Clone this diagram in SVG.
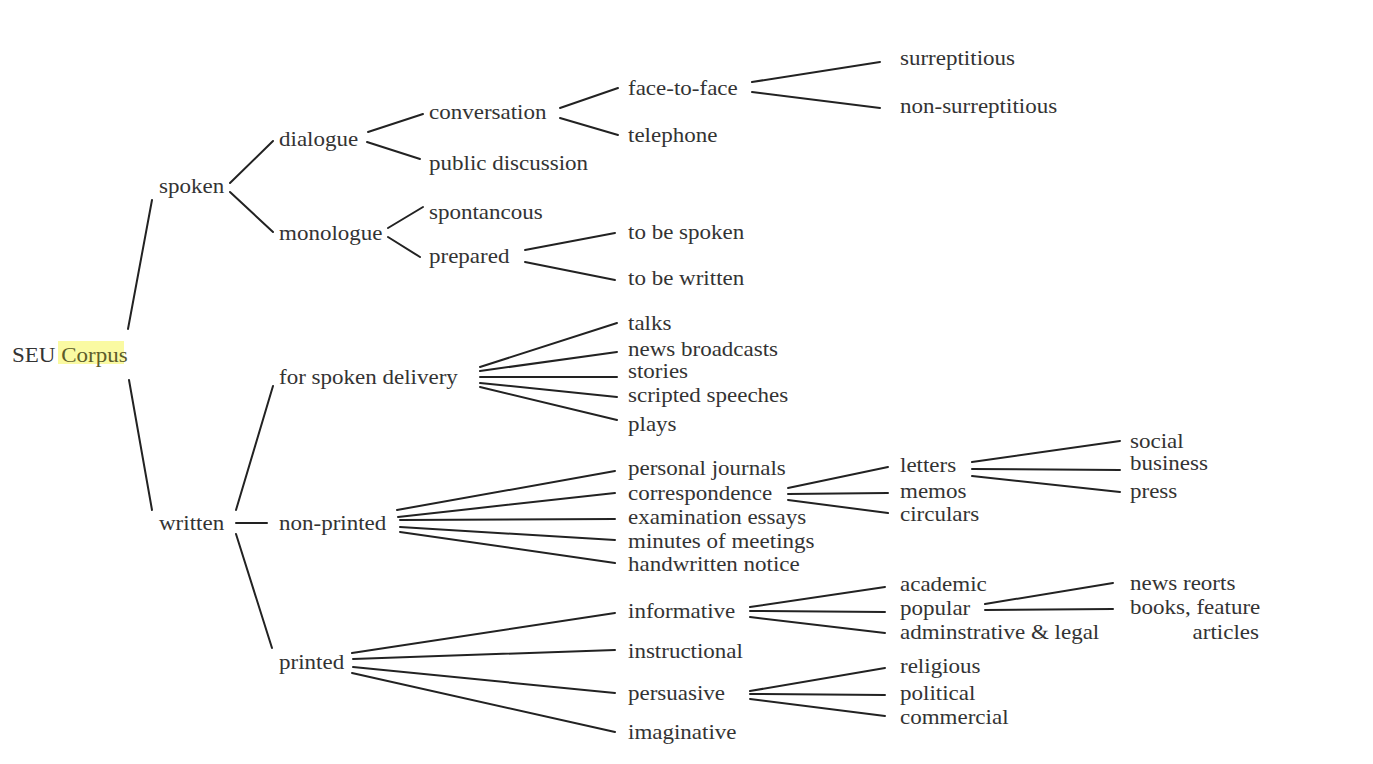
<svg xmlns="http://www.w3.org/2000/svg" width="1373" height="764" viewBox="0 0 1373 764">
<style>
text{font-family:"Liberation Serif","Times New Roman",serif;font-size:20px;fill:#333}
.end{text-anchor:end}
.hl{fill:#5c5c2a}
#connectors line{stroke:#222;stroke-width:2;stroke-linecap:round}
</style>
<rect width="1373" height="764" fill="#fff"/>
<g id="connectors">
<line x1="128" y1="329" x2="152" y2="200"/>
<line x1="129" y1="380" x2="152" y2="510"/>
<line x1="230" y1="183" x2="273" y2="141"/>
<line x1="230" y1="192" x2="273" y2="232"/>
<line x1="368" y1="132" x2="423" y2="114"/>
<line x1="367" y1="142" x2="420" y2="159"/>
<line x1="388" y1="228" x2="423" y2="207"/>
<line x1="388" y1="237" x2="420" y2="257"/>
<line x1="560" y1="108" x2="618" y2="88"/>
<line x1="560" y1="118" x2="618" y2="135"/>
<line x1="525" y1="250" x2="615" y2="233"/>
<line x1="525" y1="262" x2="615" y2="280"/>
<line x1="752" y1="82" x2="880" y2="62"/>
<line x1="752" y1="92" x2="880" y2="108"/>
<line x1="236" y1="510" x2="273" y2="386"/>
<line x1="236" y1="523" x2="267" y2="523"/>
<line x1="236" y1="534" x2="272" y2="648"/>
<line x1="480" y1="367" x2="617" y2="323"/>
<line x1="480" y1="371" x2="617" y2="352"/>
<line x1="480" y1="377" x2="617" y2="377"/>
<line x1="480" y1="383" x2="617" y2="397"/>
<line x1="480" y1="387" x2="617" y2="420"/>
<line x1="397" y1="510" x2="615" y2="471"/>
<line x1="398" y1="517" x2="615" y2="493"/>
<line x1="400" y1="520" x2="615" y2="519"/>
<line x1="400" y1="527" x2="615" y2="540"/>
<line x1="400" y1="532" x2="615" y2="563"/>
<line x1="788" y1="488" x2="888" y2="467"/>
<line x1="788" y1="494" x2="888" y2="493"/>
<line x1="788" y1="500" x2="888" y2="513"/>
<line x1="972" y1="462" x2="1120" y2="441"/>
<line x1="972" y1="469" x2="1120" y2="470"/>
<line x1="972" y1="476" x2="1120" y2="492"/>
<line x1="352" y1="653" x2="615" y2="613"/>
<line x1="353" y1="659" x2="615" y2="650"/>
<line x1="353" y1="667" x2="615" y2="693"/>
<line x1="352" y1="673" x2="615" y2="732"/>
<line x1="750" y1="607" x2="885" y2="587"/>
<line x1="750" y1="611" x2="885" y2="612"/>
<line x1="750" y1="617" x2="885" y2="633"/>
<line x1="985" y1="604" x2="1113" y2="583"/>
<line x1="985" y1="610" x2="1113" y2="609"/>
<line x1="750" y1="691" x2="885" y2="668"/>
<line x1="750" y1="694" x2="885" y2="695"/>
<line x1="750" y1="699" x2="885" y2="716"/>
</g>
<g id="n-root"><rect x="58" y="341" width="66" height="23" fill="#fafaa2"/><text transform="translate(12,362) scale(1.15,1)">SEU <tspan class="hl">Corpus</tspan></text></g>
<g id="n-spoken"><text transform="translate(159,193) scale(1.15,1)">spoken</text></g>
<g id="n-dialogue"><text transform="translate(279,146) scale(1.15,1)">dialogue</text></g>
<g id="n-monologue"><text transform="translate(279,240) scale(1.15,1)">monologue</text></g>
<g id="n-conversation"><text transform="translate(429,119) scale(1.15,1)">conversation</text></g>
<g id="n-public"><text transform="translate(429,170) scale(1.15,1)">public discussion</text></g>
<g id="n-spont"><text transform="translate(429,219) scale(1.15,1)">spontancous</text></g>
<g id="n-prepared"><text transform="translate(429,263) scale(1.15,1)">prepared</text></g>
<g id="n-f2f"><text transform="translate(628,95) scale(1.15,1)">face-to-face</text></g>
<g id="n-tel"><text transform="translate(628,142) scale(1.15,1)">telephone</text></g>
<g id="n-surr"><text transform="translate(900,65) scale(1.15,1)">surreptitious</text></g>
<g id="n-nonsurr"><text transform="translate(900,113) scale(1.15,1)">non-surreptitious</text></g>
<g id="n-tbs"><text transform="translate(628,239) scale(1.15,1)">to be spoken</text></g>
<g id="n-tbw"><text transform="translate(628,285) scale(1.15,1)">to be written</text></g>
<g id="n-fsd"><text transform="translate(279,384) scale(1.15,1)">for spoken delivery</text></g>
<g id="n-talks"><text transform="translate(628,330) scale(1.15,1)">talks</text></g>
<g id="n-news"><text transform="translate(628,356) scale(1.15,1)">news broadcasts</text></g>
<g id="n-stories"><text transform="translate(628,378) scale(1.15,1)">stories</text></g>
<g id="n-scripted"><text transform="translate(628,402) scale(1.15,1)">scripted speeches</text></g>
<g id="n-plays"><text transform="translate(628,431) scale(1.15,1)">plays</text></g>
<g id="n-written"><text transform="translate(159,530) scale(1.15,1)">written</text></g>
<g id="n-nonprinted"><text transform="translate(279,530) scale(1.15,1)">non-printed</text></g>
<g id="n-pj"><text transform="translate(628,475) scale(1.15,1)">personal journals</text></g>
<g id="n-corr"><text transform="translate(628,500) scale(1.15,1)">correspondence</text></g>
<g id="n-exam"><text transform="translate(628,524) scale(1.15,1)">examination essays</text></g>
<g id="n-minutes"><text transform="translate(628,548) scale(1.15,1)">minutes of meetings</text></g>
<g id="n-hand"><text transform="translate(628,571) scale(1.15,1)">handwritten notice</text></g>
<g id="n-letters"><text transform="translate(900,472) scale(1.15,1)">letters</text></g>
<g id="n-memos"><text transform="translate(900,498) scale(1.15,1)">memos</text></g>
<g id="n-circ"><text transform="translate(900,521) scale(1.15,1)">circulars</text></g>
<g id="n-social"><text transform="translate(1130,448) scale(1.15,1)">social</text></g>
<g id="n-business"><text transform="translate(1130,470) scale(1.15,1)">business</text></g>
<g id="n-press"><text transform="translate(1130,498) scale(1.15,1)">press</text></g>
<g id="n-printed"><text transform="translate(279,669) scale(1.15,1)">printed</text></g>
<g id="n-inform"><text transform="translate(628,618) scale(1.15,1)">informative</text></g>
<g id="n-instr"><text transform="translate(628,658) scale(1.15,1)">instructional</text></g>
<g id="n-pers"><text transform="translate(628,700) scale(1.15,1)">persuasive</text></g>
<g id="n-imag"><text transform="translate(628,739) scale(1.15,1)">imaginative</text></g>
<g id="n-acad"><text transform="translate(900,591) scale(1.15,1)">academic</text></g>
<g id="n-popular"><text transform="translate(900,615) scale(1.15,1)">popular</text></g>
<g id="n-admin"><text transform="translate(900,639) scale(1.15,1)">adminstrative &amp; legal</text></g>
<g id="n-newsr"><text transform="translate(1130,590) scale(1.15,1)">news reorts</text></g>
<g id="n-books"><text transform="translate(1130,614) scale(1.15,1)">books, feature</text><text class="end" transform="translate(1259,639) scale(1.15,1)">articles</text></g>
<g id="n-relig"><text transform="translate(900,673) scale(1.15,1)">religious</text></g>
<g id="n-polit"><text transform="translate(900,700) scale(1.15,1)">political</text></g>
<g id="n-comm"><text transform="translate(900,724) scale(1.15,1)">commercial</text></g>
</svg>
